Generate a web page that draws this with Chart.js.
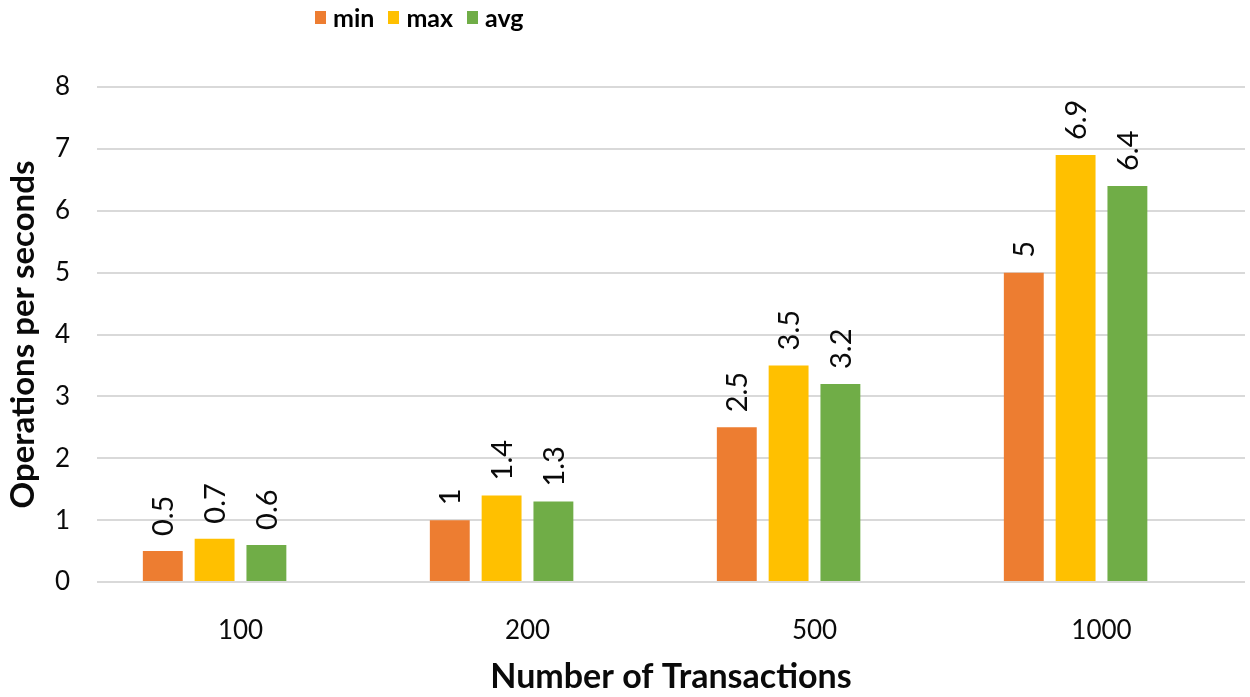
<!DOCTYPE html>
<html>
<head>
<meta charset="utf-8">
<script src="https://cdn.jsdelivr.net/npm/chart.js@4/dist/chart.umd.min.js"></script>
<style>
  html, body { margin: 0; padding: 0; background: #fff; }
  #wrap { position: relative; width: 1250px; height: 697px; }
  #legend {
    position: absolute; top: 2px; left: 315px;
    display: flex; align-items: center;
    font-family: Lato, "Open Sans", sans-serif; font-weight: bold; font-size: 25px; color: #000;
  }
  #legend span.box { display: inline-block; width: 11px; height: 13px; margin-right: 7px; }
  #legend span.item { display: flex; align-items: center; margin-right: 14px; }
</style>
</head>
<body>
<div id="wrap">
  <div id="legend"></div>
  <canvas id="barChart" width="1250" height="697"></canvas>
</div>
<script>
// ========== 数据 ==========
const categories = ['100', '200', '500', '1000']
const minValues = [0.5, 1, 2.5, 5]
const maxValues = [0.7, 1.4, 3.5, 6.9]
const avgValues = [0.6, 1.3, 3.2, 6.4]
const seriesNames = ['min', 'max', 'avg']
const seriesColors = ['#ED7D31', '#FFC000', '#70AD47']
const yTicks = [0, 1, 2, 3, 4, 5, 6, 7, 8]

const FONT = 'Lato, "Open Sans", sans-serif'
const TEXT = '#0a0a0a'

// legend (html)
const legendEl = document.getElementById('legend')
seriesNames.forEach((name, i) => {
  const item = document.createElement('span')
  item.className = 'item'
  item.innerHTML = `<span class="box" style="background:${seriesColors[i]}"></span>${name}`
  legendEl.appendChild(item)
})

// rotated value labels above each bar
const barLabels = {
  id: 'barLabels',
  afterDatasetsDraw(chart) {
    const ctx = chart.ctx
    ctx.save()
    ctx.font = '29px ' + FONT
    ctx.fillStyle = TEXT
    ctx.textAlign = 'left'
    ctx.textBaseline = 'middle'
    chart.data.datasets.forEach((ds, di) => {
      const meta = chart.getDatasetMeta(di)
      meta.data.forEach((bar, i) => {
        const v = ds.data[i]
        if (v === null || v === undefined) return
        ctx.save()
        ctx.translate(bar.x + 1, bar.y - 15)
        ctx.rotate(-Math.PI / 2)
        ctx.fillText(String(v), 0, 0)
        ctx.restore()
      })
    })
    ctx.restore()
  }
}

const ctx = document.getElementById('barChart').getContext('2d')
new Chart(ctx, {
  type: 'bar',
  data: {
    labels: categories,
    datasets: [
      { label: seriesNames[0], data: minValues, backgroundColor: seriesColors[0] },
      { label: seriesNames[1], data: maxValues, backgroundColor: seriesColors[1] },
      { label: seriesNames[2], data: avgValues, backgroundColor: seriesColors[2] },
      // empty slot, keeps the groups shifted like the original
      { label: '', data: [null, null, null, null], backgroundColor: 'rgba(0,0,0,0)' }
    ]
  },
  options: {
    responsive: false,
    animation: false,
    layout: { padding: { top: 87, right: 5, left: 0, bottom: 0 } },
    datasets: { bar: { categoryPercentage: 0.722, barPercentage: 0.77 } },
    plugins: {
      legend: { display: false },
      tooltip: { enabled: false }
    },
    scales: {
      x: {
        grid: { display: false, drawTicks: false },
        border: { display: false },
        ticks: { font: { family: FONT, size: 26 }, color: TEXT, padding: 33 },
        title: {
          display: true, text: 'Number of Transactions',
          font: { family: FONT, size: 34, weight: 'bold' }, color: TEXT,
          padding: { top: 12, bottom: 0 }
        },
        afterFit(scale) { scale.height = 115 }
      },
      y: {
        min: 0, max: 8,
        afterBuildTicks(scale) { scale.ticks = yTicks.map(v => ({ value: v })) },
        grid: { color: '#d9d9d9', lineWidth: 2, drawTicks: false },
        border: { display: false },
        ticks: { font: { family: FONT, size: 26 }, color: TEXT, padding: 27 },
        title: {
          display: true, text: 'Operations per seconds',
          font: { family: FONT, size: 33, weight: 'bold' }, color: TEXT,
          padding: { top: 4, bottom: 0 }
        },
        afterFit(scale) { scale.width = 97 }
      }
    }
  },
  plugins: [barLabels]
})
</script>
</body>
</html>
